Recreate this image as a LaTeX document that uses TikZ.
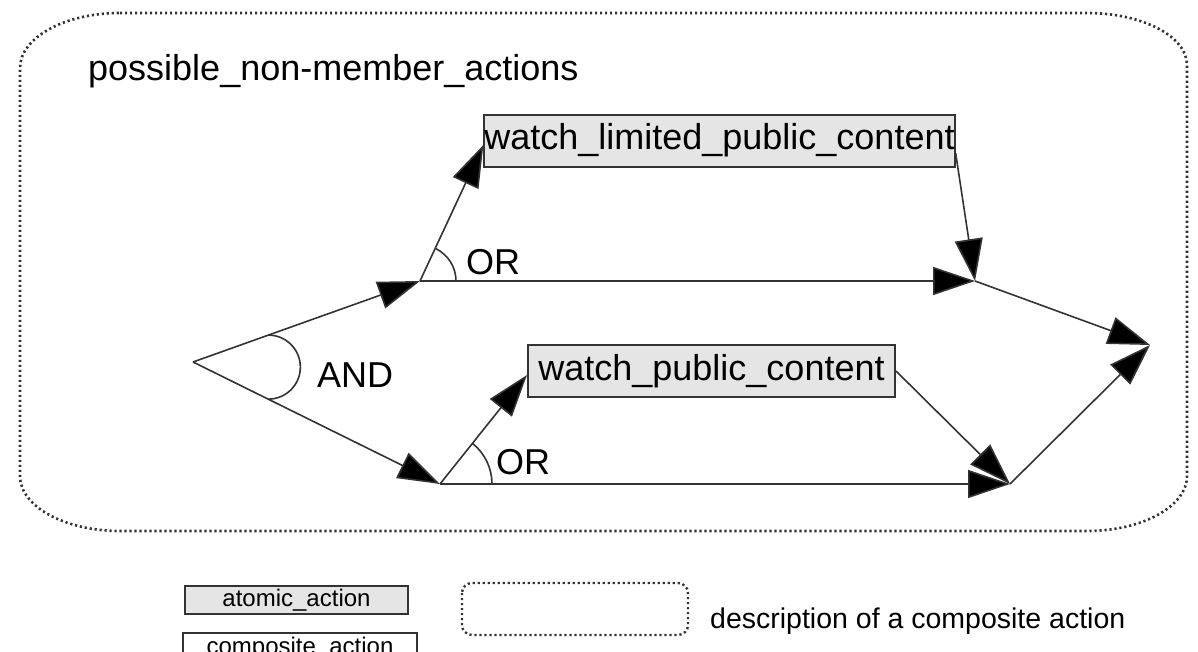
\documentclass[tikz,border=0pt]{standalone}
\usepackage{fontspec}
\setmainfont{Liberation Sans}
\usetikzlibrary{arrows.meta,calc}

\tikzset{
  edge/.style={draw=black!80, line width=1.6pt, -{Triangle[length=42pt,width=28pt,fill=black]}},
  plain/.style={draw=black!80, line width=1.6pt},
  atomic/.style={draw=black!80, fill=black!10, line width=2pt, inner sep=0pt,
    font=\fontsize{36}{40}\selectfont, text height=26pt, text depth=8pt},
  legendbox/.style={draw=black!80, line width=2pt, inner sep=0pt,
    font=\fontsize{24}{28}\selectfont, text height=17pt, text depth=5pt},
  dotframe/.style={draw=black!80, line width=2.6pt, dash pattern=on 2.2pt off 2.8pt},
  lbl/.style={font=\fontsize{36}{40}\selectfont, inner sep=0pt},
}

\begin{document}
\begin{tikzpicture}[x=1pt,y=1pt]
  \useasboundingbox (0,0) rectangle (1198,-652);
  \clip (0,0) rectangle (1198,-652);

  % composite action frame
  \draw[dotframe]
    (120,-13) -- (1087,-13)
    arc[start angle=90, end angle=0, x radius=100, y radius=52] -- (1187,-476)
    arc[start angle=0, end angle=-90, x radius=100, y radius=55] -- (120,-531)
    arc[start angle=270, end angle=180, x radius=100, y radius=55] -- (20,-68)
    arc[start angle=180, end angle=90, x radius=100, y radius=55] -- cycle;

  \node[lbl, anchor=base west] (title) at (88,-81) {possible\_non-member\_actions};

  % atomic actions
  \node[atomic, minimum width=465pt, minimum height=52pt] (wlpc) at (719.5,-141) {watch\_limited\_public\_content};
  \node[atomic, minimum width=367pt, minimum height=52pt] (wpc) at (711.5,-371) {watch\_public\_content};

  % branching and joining points
  \coordinate (andv) at (193,-362);
  \coordinate (or1) at (420,-281);
  \coordinate (or2) at (440,-484);
  \coordinate (j1) at (975,-281);
  \coordinate (j2) at (1010,-484);
  \coordinate (fin) at (1150,-345);

  % AND split
  \draw[edge] (andv) -- (or1);
  \draw[edge] (andv) -- (or2);
  \draw[plain] ($(andv)!0.332!(or1)$) arc[start angle=90, end angle=-90, radius=32];
  \node[lbl] (andlbl) at (355,-375) {AND};

  % upper OR branch
  \draw[edge] (or1) -- ([yshift=-4pt]wlpc.west);
  \draw[edge] (or1) -- (j1);
  \draw[edge] ([yshift=-12pt]wlpc.east) -- (j1);
  \draw[plain] ([shift={(0:36)}]or1) arc[start angle=0, end angle=63.8, radius=36];
  \node[lbl] (orlbl1) at (493,-262) {OR};

  % lower OR branch
  \draw[edge] (or2) -- ([yshift=-4pt]wpc.west);
  \draw[edge] (or2) -- (j2);
  \draw[edge] (wpc.east) -- (j2);
  \draw[plain] ([shift={(0:52)}]or2) arc[start angle=0, end angle=51.1, radius=52];
  \node[lbl] (orlbl2) at (523,-462) {OR};

  % join
  \draw[edge] (j1) -- (fin);
  \draw[edge] (j2) -- (fin);

  % legend
  \node[legendbox, fill=black!10, minimum width=223pt, minimum height=28pt] (leg1) at (296.5,-600) {atomic\_action};
  \node[legendbox, fill=white, minimum width=234pt, minimum height=30pt] (leg2) at (300,-648) {composite\_action};
  \draw[draw=black!80, line width=2.4pt, dash pattern=on 2.2pt off 2.8pt, rounded corners=10pt]
    (462,-583) rectangle (688,-635);
  \node[anchor=base west, inner sep=0pt, font=\fontsize{28.5}{32}\selectfont] (legtxt) at (710,-628) {description of a composite action};
\end{tikzpicture}
\end{document}
